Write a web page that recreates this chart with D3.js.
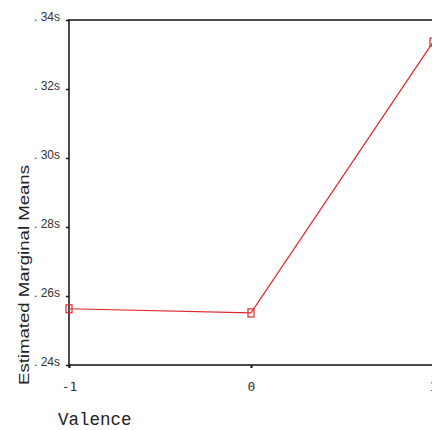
<!DOCTYPE html>
<html>
<head>
<meta charset="utf-8">
<script src="https://cdn.jsdelivr.net/npm/d3@7"></script>
<style>
body{margin:0;background:#fff;}
</style>
</head>
<body>
<script>
const SvgWidth = 432, SvgHeight = 430;
var margin = {top: 20, right: 0, bottom: 65, left: 69};

var valence = [-1, 0, 1];
var means = [0.2563, 0.2551, 0.3336];
var yTicks = [0.24, 0.26, 0.28, 0.30, 0.32, 0.34];
var yTickLabels = [". 24s", ". 26s", ". 28s", ". 30s", ". 32s", ". 34s"];

var svg = d3.select('body')
	.append('svg')
	.attr('width', SvgWidth)
	.attr('height', SvgHeight)
	.style('background-color', 'white');

var x = d3.scaleLinear().domain([-1, 1]).range([margin.left, 433]);
var y = d3.scaleLinear().domain([0.24, 0.34]).range([365, margin.top]);

// frame: left, bottom, top
svg.append('path')
	.attr('d', 'M432,' + y(0.34) + 'H' + x(-1) + 'V' + y(0.24) + 'H432')
	.attr('fill', 'none')
	.attr('stroke', '#111')
	.attr('stroke-width', 1.5);

var yAxis = svg.append('g')
	.attr('transform', 'translate(' + x(-1) + ',0)')
	.call(d3.axisLeft(y).tickValues(yTicks).tickSize(3).tickPadding(6)
		.tickFormat(function(d, i) { return yTickLabels[i]; }));
yAxis.select('.domain').remove();
yAxis.selectAll('line').attr('stroke', '#111').attr('stroke-width', 1.5);
yAxis.selectAll('text')
	.attr('font-family', 'Liberation Sans')
	.attr('font-size', 12)
	.attr('y', -3)
	.attr('fill', '#333');

var xAxis = svg.append('g')
	.attr('transform', 'translate(0,' + y(0.24) + ')')
	.call(d3.axisBottom(x).tickValues(valence).tickSize(3).tickPadding(14)
		.tickFormat(d3.format('d')));
xAxis.select('.domain').remove();
xAxis.selectAll('line').attr('stroke', '#111').attr('stroke-width', 2);
xAxis.selectAll('text')
	.attr('font-family', 'DejaVu Sans Mono')
	.attr('font-size', 13)
	.attr('fill', '#333')
	.text(function(d) { return d < 0 ? '-1' : d; });

var line = d3.line()
	.x(function(d, i) { return x(valence[i]); })
	.y(function(d) { return y(d); });

svg.append('path')
	.datum(means)
	.attr('fill', 'none')
	.attr('stroke', '#e0282c')
	.attr('stroke-width', 1.2)
	.attr('d', line);

svg.selectAll('.pt')
	.data(means)
	.enter().append('rect')
	.attr('class', 'pt')
	.attr('x', function(d, i) { return x(valence[i]) - 3; })
	.attr('y', function(d) { return y(d) - 4; })
	.attr('width', 6)
	.attr('height', 8)
	.attr('fill', 'none')
	.attr('stroke', '#e0282c')
	.attr('stroke-width', 1.2);

svg.append('text')
	.attr('transform', 'translate(29,275) rotate(-90)')
	.attr('text-anchor', 'middle')
	.attr('font-family', 'Liberation Sans')
	.attr('font-size', 14)
	.attr('textLength', 220)
	.attr('lengthAdjust', 'spacingAndGlyphs')
	.attr('fill', '#222')
	.text('Estimated Marginal Means');

svg.append('text')
	.attr('x', 58)
	.attr('y', 425)
	.attr('font-family', 'Liberation Mono')
	.attr('font-size', 17.5)
	.attr('fill', '#222')
	.text('Valence');
</script>
</body>
</html>
